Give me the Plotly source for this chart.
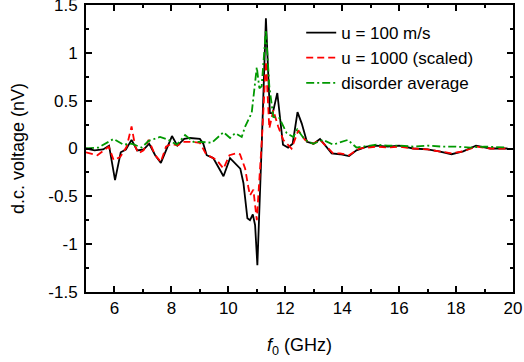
import plotly.graph_objects as go

# u = 100 m/s (black)
f_100 = [5.0, 5.3, 5.6, 5.81, 6.02, 6.22, 6.4, 6.6, 6.8, 7.03, 7.22, 7.43, 7.63, 7.8, 8.02, 8.21, 8.45, 8.65, 9.0, 9.12,
         9.24, 9.47, 9.83, 10.06, 10.3, 10.42, 10.53, 10.67, 10.76, 10.86, 10.94, 11.02, 11.18, 11.32, 11.46, 11.56,
         11.72, 11.92, 12.1, 12.26, 12.43, 12.58, 12.76, 13.0, 13.22, 13.63, 13.92, 14.24, 14.5, 14.86, 15.2, 15.6,
         16.0, 16.5, 17.0, 17.4, 17.84, 18.25, 18.7, 19.2, 19.8]
v_100 = [0.0, -0.02, -0.01, 0.03, -0.33, -0.04, -0.01, 0.09, -0.02, -0.01, 0.05, -0.07, -0.15, -0.02, 0.13, 0.03,
         0.1, 0.11, 0.1, 0.05, -0.07, -0.1, -0.29, -0.1, -0.17, -0.21, -0.36, -0.73, -0.75, -0.69, -0.8, -1.22,
         0.1, 1.36, 0.37, 0.37, 0.58, 0.04, 0.01, 0.05, 0.38, 0.26, 0.07, 0.05, 0.1, -0.05, -0.06, -0.08, -0.02,
         0.02, 0.03, 0.02, 0.03, 0.0, -0.01, -0.03, -0.06, -0.03, 0.03, 0.0, 0.0]

# u = 1000 (scaled) (red dashed)
f_1000 = [5.0, 5.4, 5.8, 5.97, 6.2, 6.43, 6.6, 6.73, 6.84, 7.02, 7.2, 7.43, 7.63, 7.81, 8.0, 8.21, 8.42, 8.66, 9.0,
          9.22, 9.59, 9.83, 10.04, 10.29, 10.41, 10.59, 10.7, 10.76, 10.88, 11.0, 11.18, 11.32, 11.44, 11.58, 11.75,
          11.93, 12.22, 12.46, 12.69, 12.98, 13.22, 13.68, 13.92, 14.24, 14.6, 14.9, 15.2, 15.6, 16.0, 16.5, 17.0,
          17.4, 17.84, 18.25, 18.7, 19.2, 19.8]
v_1000 = [-0.04, -0.07, 0.02, -0.12, -0.09, 0.02, 0.23, 0.02, -0.05, -0.02, 0.09, -0.07, -0.14, 0.02, 0.05, 0.03,
          0.07, 0.07, 0.06, -0.06, -0.12, -0.21, -0.07, -0.05, -0.06, -0.21, -0.4, -0.49, -0.43, -0.75, 0.1, 0.91,
          0.21, 0.4, 0.23, 0.09, 0.0, 0.19, 0.09, 0.05, 0.09, -0.05, -0.05, -0.07, 0.0, 0.01, 0.02, 0.01, 0.02, 0.0,
          -0.01, -0.03, -0.05, -0.03, 0.02, 0.0, 0.0]

# disorder average (green dash-dot)
f_dis = [5.0, 5.44, 5.97, 6.32, 6.6, 6.96, 7.2, 7.6, 7.9, 8.19, 8.48, 8.77, 9.0, 9.42, 9.83, 10.06, 10.24, 10.47,
         10.59, 10.82, 11.0, 11.09, 11.17, 11.32, 11.44, 11.58, 11.79, 12.05, 12.28, 12.42, 12.69, 12.98, 13.33,
         13.68, 14.2, 14.5, 15.2, 15.6, 16.0, 16.5, 17.0, 17.5, 18.0, 18.5, 19.0, 19.8]
v_dis = [0.0, 0.01, 0.1, 0.04, 0.05, 0.01, 0.08, 0.12, 0.09, 0.04, 0.14, 0.07, 0.07, 0.06, 0.17, 0.11, 0.16, 0.12,
         0.23, 0.37, 0.85, 0.63, 0.65, 1.24, 0.65, 0.33, 0.32, 0.16, 0.12, 0.2, 0.09, 0.05, 0.09, 0.04, 0.09, 0.01,
         0.04, 0.03, 0.03, 0.02, 0.03, 0.02, 0.02, 0.01, 0.02, 0.01]

names = ["u = 100 m/s", "u = 1000 (scaled)", "disorder average"]
x_ticks = [6, 8, 10, 12, 14, 16, 18, 20]
y_ticks = [-1.5, -1, -0.5, 0, 0.5, 1, 1.5]
y_tick_text = ["-1.5", "-1", "-0.5", "0", "0.5", "1", "1.5"]

FONT = "Arial, Liberation Sans, sans-serif"

fig = go.Figure()
fig.add_trace(go.Scatter(x=f_100, y=v_100, mode="lines", name=names[0],
                         line=dict(color="black", width=1.8)))
fig.add_trace(go.Scatter(x=f_1000, y=v_1000, mode="lines", name=names[1],
                         line=dict(color="#ff0000", width=1.8, dash="7px,4px")))
fig.add_trace(go.Scatter(x=f_dis, y=v_dis, mode="lines", name=names[2],
                         line=dict(color="#009900", width=1.8, dash="8px,3px,2px,3px")))

axis_common = dict(showgrid=False, zeroline=False, showline=True, linecolor="black", linewidth=2,
                   mirror="ticks", ticks="inside", ticklen=6, tickwidth=1.5, tickcolor="black",
                   automargin=False, ticklabeloverflow="allow",
                   tickfont=dict(family=FONT, size=17, color="black"))

fig.update_xaxes(range=[5, 20], tickvals=x_ticks, ticktext=[str(t) for t in x_ticks],
                 minor=dict(dtick=1, tick0=5, ticks="inside", ticklen=3, tickwidth=1.5, tickcolor="black"),
                 title=dict(text="<i>f</i><sub>0</sub> (GHz)", font=dict(family=FONT, size=18, color="black"),
                            standoff=21),
                 ticklabelstandoff=0, **axis_common)
fig.update_yaxes(range=[-1.5, 1.5], tickvals=y_ticks, ticktext=y_tick_text,
                 minor=dict(dtick=0.25, tick0=0, ticks="inside", ticklen=3, tickwidth=1.5, tickcolor="black"),
                 title=dict(text="d.c. voltage (nV)", font=dict(family=FONT, size=18, color="black"),
                            standoff=19),
                 ticklabelstandoff=3, **axis_common)

fig.update_layout(
    width=524, height=362,
    margin=dict(l=86, r=11, t=5, b=70),
    paper_bgcolor="white", plot_bgcolor="white",
    font=dict(family=FONT, color="black"),
    legend=dict(x=0.504, y=0.965, xanchor="left", yanchor="top", bgcolor="rgba(0,0,0,0)",
                font=dict(family=FONT, size=17, color="black"), tracegroupgap=0),
    showlegend=True,
)

fig.write_html("out.html", config={"displayModeBar": False},
               post_script="document.body.style.margin='0';")
